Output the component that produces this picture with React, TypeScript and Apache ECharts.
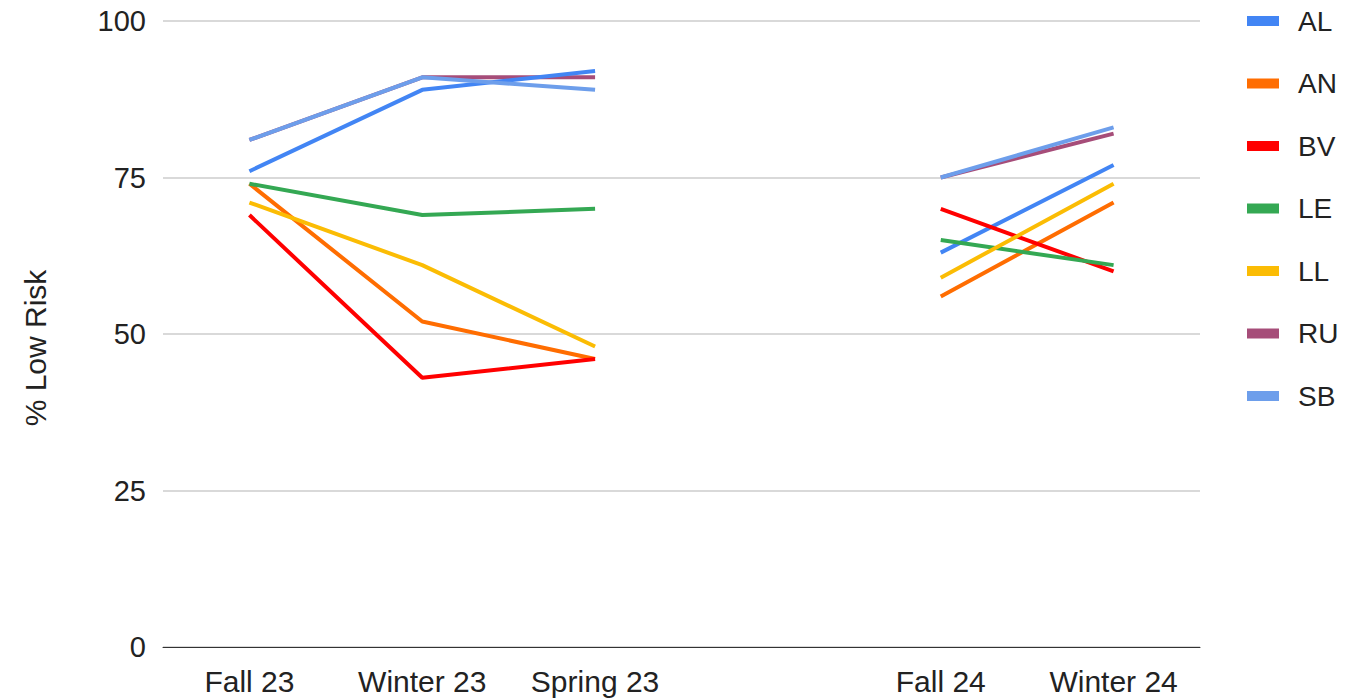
import React, { useEffect, useRef } from "react";
import * as echarts from "echarts";

const categories = ["Fall 23", "Winter 23", "Spring 23", "", "Fall 24", "Winter 24"];
const yTicks = [0, 25, 50, 75, 100];

const AL = [76, 89, 92, null, 63, 77];
const AN = [74, 52, 46, null, 56, 71];
const BV = [69, 43, 46, null, 70, 60];
const LE = [74, 69, 70, null, 65, 61];
const LL = [71, 61, 48, null, 59, 74];
const RU = [81, 91, 91, null, 75, 82];
const SB = [81, 91, 89, null, 75, 83];

const seriesNames = ["AL", "AN", "BV", "LE", "LL", "RU", "SB"];
const seriesData = [AL, AN, BV, LE, LL, RU, SB];
const colors = ["#4285F4", "#FF6D01", "#FF0000", "#34A853", "#FBBC04", "#A64D79", "#6D9EEB"];

export default function App() {
  const ref = useRef<HTMLDivElement>(null);
  useEffect(() => {
    if (!ref.current) return;
    const chart = echarts.init(ref.current, null, { renderer: "svg" });
    const font = "'Liberation Sans', Arial, sans-serif";
    chart.setOption({
      animation: false,
      color: colors,
      grid: { left: 163, right: 155, top: 21, bottom: 52, containLabel: false },
      legend: {
        orient: "vertical",
        left: 1247,
        top: 7,
        padding: 0,
        itemWidth: 32,
        itemHeight: 10,
        itemGap: 34.5,
        icon: "rect",
        data: seriesNames,
        textStyle: { fontSize: 28, lineHeight: 28, color: "#222", fontFamily: font, padding: [0, 0, 0, 14] },
      },
      xAxis: {
        type: "category",
        data: categories,
        boundaryGap: true,
        axisLine: { lineStyle: { color: "#333", width: 1 } },
        axisTick: { show: false },
        axisLabel: { fontSize: 30, color: "#222", fontFamily: font, margin: 19, interval: 0 },
      },
      yAxis: {
        type: "value",
        min: yTicks[0],
        max: yTicks[yTicks.length - 1],
        interval: 25,
        name: "% Low Risk",
        nameLocation: "middle",
        nameGap: 113,
        nameTextStyle: { fontSize: 30, color: "#222", fontFamily: font, padding: [0, 28, 0, 0] },
        axisLine: { show: false },
        axisTick: { show: false },
        axisLabel: { fontSize: 29, color: "#222", fontFamily: font, margin: 17 },
        splitLine: { lineStyle: { color: "#ccc", width: 1.5 } },
      },
      series: seriesNames.map((n, i) => ({
        name: n,
        type: "line",
        data: seriesData[i],
        showSymbol: false,
        symbol: "none",
        connectNulls: false,
        lineStyle: { width: 4, color: colors[i] },
        z: i === 5 ? 2 : 3,
      })),
    });
    return () => chart.dispose();
  }, []);
  return (
    <div
      ref={ref}
      style={{ position: "absolute", left: 0, top: 0, width: 1355, height: 699, background: "#fff" }}
    />
  );
}
